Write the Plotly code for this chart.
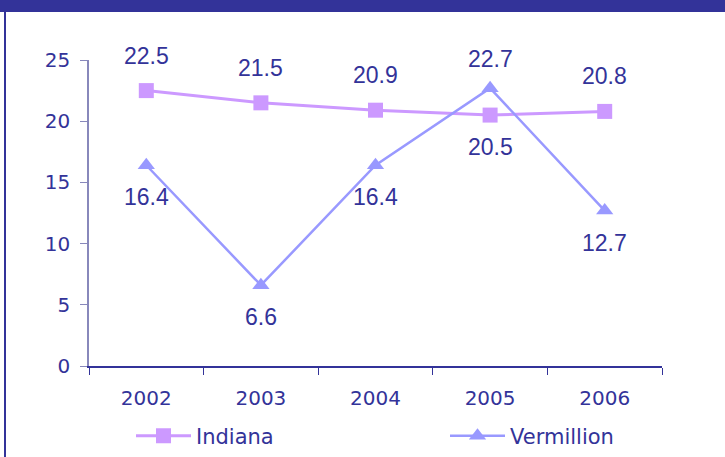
import plotly.graph_objects as go

years = ["2002", "2003", "2004", "2005", "2006"]
indiana = [22.5, 21.5, 20.9, 20.5, 20.8]
vermillion = [16.4, 6.6, 16.4, 22.7, 12.7]
y_ticks = [0, 5, 10, 15, 20, 25]

# label placement (style): +1 above, -1 below
indiana_pos = [1, 1, 1, -1, 1]
vermillion_pos = [-1, -1, -1, 1, -1]

TXT = "#333399"
C_IND = "#CC99FF"
C_VER = "#9999FF"

fig = go.Figure()
fig.add_trace(go.Scatter(
    x=years, y=indiana, name="Indiana", mode="lines+markers",
    line=dict(color=C_IND, width=3),
    marker=dict(symbol="square", size=15, color=C_IND),
    legend="legend",
))
fig.add_trace(go.Scatter(
    x=years, y=vermillion, name="Vermillion", mode="lines+markers",
    line=dict(color=C_VER, width=2.5),
    marker=dict(symbol="triangle-up", size=15, color=C_VER),
    legend="legend2",
))

for ys, ps, up in [(indiana, indiana_pos, 35), (vermillion, vermillion_pos, 29)]:
    for i, (yv, p) in enumerate(zip(ys, ps)):
        # category axis: annotation x is the category's serial index
        fig.add_annotation(
            x=i, y=yv, xref="x", yref="y", text="%.1f" % yv, showarrow=False,
            yshift=up if p > 0 else -32,
            font=dict(family="Liberation Sans", size=23, color=TXT),
        )

W, H = 725, 457
L, R, T, B = 89, 63, 60, 91
pw, ph = W - L - R, H - T - B

def px_x(p):
    return (p - L) / pw

def px_y(p):
    return 1 - (p - T) / ph

fig.add_shape(type="rect", xref="paper", yref="paper", x0=px_x(-2), x1=px_x(W + 2),
              y0=px_y(12), y1=px_y(-2), fillcolor=TXT, line=dict(width=0))
fig.add_shape(type="rect", xref="paper", yref="paper", x0=px_x(4), x1=px_x(6),
              y0=px_y(H + 2), y1=px_y(12), fillcolor=TXT, line=dict(width=0))

leg_common = dict(orientation="h", xanchor="left", y=px_y(436), yanchor="middle",
                  itemwidth=55, font=dict(size=21, color=TXT), bgcolor="rgba(0,0,0,0)")

fig.update_layout(
    width=W, height=H,
    margin=dict(l=L, r=R, t=T, b=B, autoexpand=False),
    paper_bgcolor="white", plot_bgcolor="white",
    font=dict(family="DejaVu Sans", size=20, color=TXT),
    showlegend=True,
    legend=dict(x=px_x(131), **leg_common),
    legend2=dict(x=px_x(445), **leg_common),
)
fig.update_xaxes(
    type="category", range=[-0.5, 4.5], showline=True, linecolor=TXT, linewidth=1.5,
    ticks="outside", ticklen=7, tickcolor=TXT, tickson="boundaries", showgrid=False,
    ticklabelstandoff=13, zeroline=False,
)
fig.update_yaxes(
    range=[0, 25], tickvals=y_ticks, showline=True, linecolor="#8888BB", linewidth=1.5,
    ticks="outside", ticklen=7, tickcolor="#8888BB", showgrid=False, zeroline=False,
    ticklabelstandoff=6,
)

fig.write_html("out.html", config={"displayModeBar": False},
               post_script="document.body.style.margin='0';")
